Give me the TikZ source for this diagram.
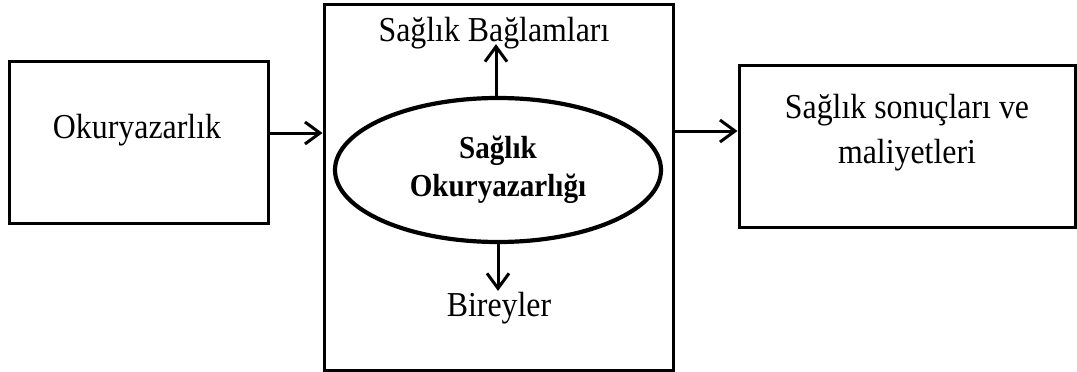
\documentclass[tikz,border=0pt]{standalone}
\usepackage{fontspec}
\setmainfont[FakeStretch=0.91]{Liberation Serif}
\usetikzlibrary{positioning,arrows.meta,shapes.geometric}

\begin{document}
\begin{tikzpicture}[x=1pt,y=-1pt,
		box/.style={draw, line width=3pt, inner sep=0pt},
		lbl/.style={font=\fontsize{35}{45}\selectfont, align=center, inner sep=1pt},
		conn/.style={line width=3pt, -{Straight Barb[length=15pt,width=22pt,line width=3pt]}}]
			\useasboundingbox (0,0) rectangle (1077,372);
			% Boxes
			\node[box, minimum width=259, minimum height=162] (Okur) at (138.5,142) {};
			\node[box, minimum width=349, minimum height=366] (Merkez) at (498.5,187) {};
			\node[box, minimum width=336, minimum height=162] (Sonuc) at (907,146) {};
			\node[draw, ellipse, line width=4.2pt, inner sep=0pt, minimum width=326, minimum height=144,
				font=\fontsize{32}{38}\selectfont\bfseries, align=center] (SO) at (498,170) {Sağlık\\Okuryazarlığı};
			
			% Labels
			\node[lbl] (OkurText) at (137,130) {Okuryazarlık};
			\node[lbl] (SonucText) at (907,133) {Sağlık sonuçları ve\\maliyetleri};
			\node[lbl] (Baglam) at (494,33) {Sağlık Bağlamları};
			\node[lbl] (Birey) at (499,308) {Bireyler};
			
			% Arrows
			\draw[conn] ([yshift=9pt]Okur.east) -- ([yshift=9pt]Okur.east -| Merkez.west);
			\draw[conn] ([yshift=15pt]Sonuc.west -| Merkez.east) -- ([yshift=15pt]Sonuc.west);
			\draw[conn, shorten >=-6pt] ([xshift=-2pt]SO.north) -- ([xshift=-2pt]SO.north |- Baglam.south);
			\draw[conn] (SO.south) -- (SO.south |- Birey.north);
		\end{tikzpicture}
\end{document}
